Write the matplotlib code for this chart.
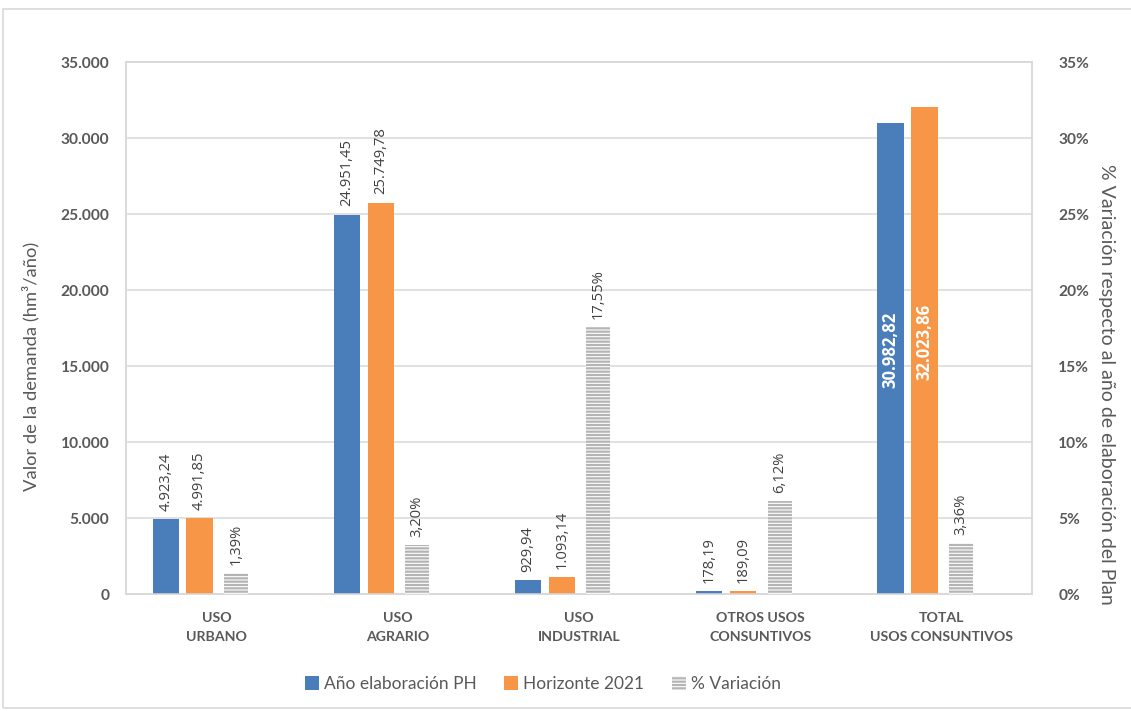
import matplotlib
matplotlib.use("Agg")
import matplotlib.pyplot as plt
from matplotlib.patches import Patch, Rectangle
from matplotlib.ticker import FuncFormatter
import numpy as np

# ---- data ----
categorias = ["USO\nURBANO", "USO\nAGRARIO", "USO\nINDUSTRIAL",
              "OTROS USOS\nCONSUNTIVOS", "TOTAL\nUSOS CONSUNTIVOS"]
anio_ph = [4923.24, 24951.45, 929.94, 178.19, 30982.82]
horizonte_2021 = [4991.85, 25749.78, 1093.14, 189.09, 32023.86]
variacion_pct = [1.39, 3.20, 17.55, 6.12, 3.36]

BLUE = "#4a7ebb"
ORANGE = "#f79646"
HATCH_GREY = "#b4b4b4"
GRID = "#d9d9d9"
TXT = "#595959"
LBL = "#404040"

plt.rcParams['font.family'] = ['Lato', 'DejaVu Sans']
plt.rcParams['hatch.linewidth'] = 1.6
DL_FONT = ['Open Sans', 'DejaVu Sans']

def es_num(v, dec=2):
    # Spanish number format: 24.951,45
    s = f"{v:,.{dec}f}"
    return s.replace(",", "X").replace(".", ",").replace("X", ".")

fig = plt.figure(figsize=(11.31, 7.11), dpi=100)
# light outer frame
fig.patches.append(Rectangle((3 / 1131, 3 / 711), 1.2, 699 / 711, transform=fig.transFigure,
                             fill=False, edgecolor="#d9d9d9", linewidth=1.2))

ax = fig.add_axes([126 / 1131, 1 - 594 / 711, (1032 - 126) / 1131, (594 - 62) / 711])
ax2 = ax.twinx()

x = np.arange(len(categorias))
w = 0.145
off_blue, off_orange, off_hatch = -0.281, -0.094, 0.107

b1 = ax.bar(x + off_blue, anio_ph, w, color=BLUE, zorder=3)
b2 = ax.bar(x + off_orange, horizonte_2021, w, color=ORANGE, zorder=3)
b3 = ax2.bar(x + off_hatch, variacion_pct, 0.133, facecolor="white", edgecolor=HATCH_GREY,
             hatch="-----", linewidth=0, zorder=3)

ax.set_ylim(0, 35000)
ax2.set_ylim(0, 35)
ax.set_xlim(-0.5, len(categorias) - 0.5)
ax.set_yticks(np.arange(0, 35001, 5000))
ax2.set_yticks(np.arange(0, 36, 5))
ax.yaxis.set_major_formatter(FuncFormatter(lambda v, p: es_num(v, 0)))
ax2.yaxis.set_major_formatter(FuncFormatter(lambda v, p: f"{int(v)}%"))

ax.grid(axis="y", color=GRID, linewidth=1.1, zorder=0)
ax.set_axisbelow(True)
for a in (ax, ax2):
    for s in a.spines.values():
        s.set_color(GRID)
        s.set_linewidth(1.1)

ax.set_xticks(x)
ax.set_xticklabels(categorias, fontsize=10.2, fontweight="bold", color=TXT, linespacing=1.7)
ax.tick_params(axis="x", length=0, pad=13)
ax.tick_params(axis="y", length=0, pad=12, labelsize=11.2, labelcolor=TXT)
ax2.tick_params(axis="y", length=0, pad=19, labelsize=11.2, labelcolor=TXT)
for t in ax.get_yticklabels() + ax2.get_yticklabels():
    t.set_fontweight("bold")

fig.text(31 / 1131, 1 - 366 / 711, "Valor de la demanda (hm³/año)", rotation=90,
         ha="center", va="center", fontsize=13.2, color=TXT)
fig.text(1106 / 1131, 1 - 384 / 711, "% Variación respecto al año de elaboración del Plan",
         rotation=-90, ha="center", va="center", fontsize=14, color=TXT)

# data labels
for bars, vals in [(b1, anio_ph), (b2, horizonte_2021)]:
    for j, (r, v) in enumerate(zip(bars, vals)):
        xc = r.get_x() + r.get_width() / 2
        if j == len(vals) - 1:
            ax.annotate(es_num(v), (xc, v / 2), xytext=(0, 6.5), textcoords="offset points",
                        rotation=90, ha="center", va="center", fontsize=12, color="white",
                        fontweight="bold", family=DL_FONT, zorder=5)
        else:
            ax.annotate(es_num(v), (xc, v), xytext=(0, 6), textcoords="offset points",
                        rotation=90, ha="center", va="bottom", fontsize=10.6, color=LBL,
                        family=DL_FONT)
for r, v in zip(b3, variacion_pct):
    xc = r.get_x() + r.get_width() / 2
    ax2.annotate(es_num(v) + "%", (xc, v), xytext=(0, 6), textcoords="offset points",
                 rotation=90, ha="center", va="bottom", fontsize=10.6, color=LBL,
                 family=DL_FONT)

handles = [Patch(facecolor=BLUE), Patch(facecolor=ORANGE),
           Patch(facecolor="white", edgecolor=HATCH_GREY, hatch="-----", linewidth=0)]
fig.legend(handles, ["Año elaboración PH", "Horizonte 2021", "% Variación"],
           loc="center", bbox_to_anchor=(543 / 1131, 1 - 684 / 711), ncol=3, frameon=False,
           fontsize=12.5, labelcolor=TXT, handlelength=0.8, handleheight=0.8,
           handletextpad=0.3, columnspacing=1.6)

fig.savefig("out.png", dpi=100)
